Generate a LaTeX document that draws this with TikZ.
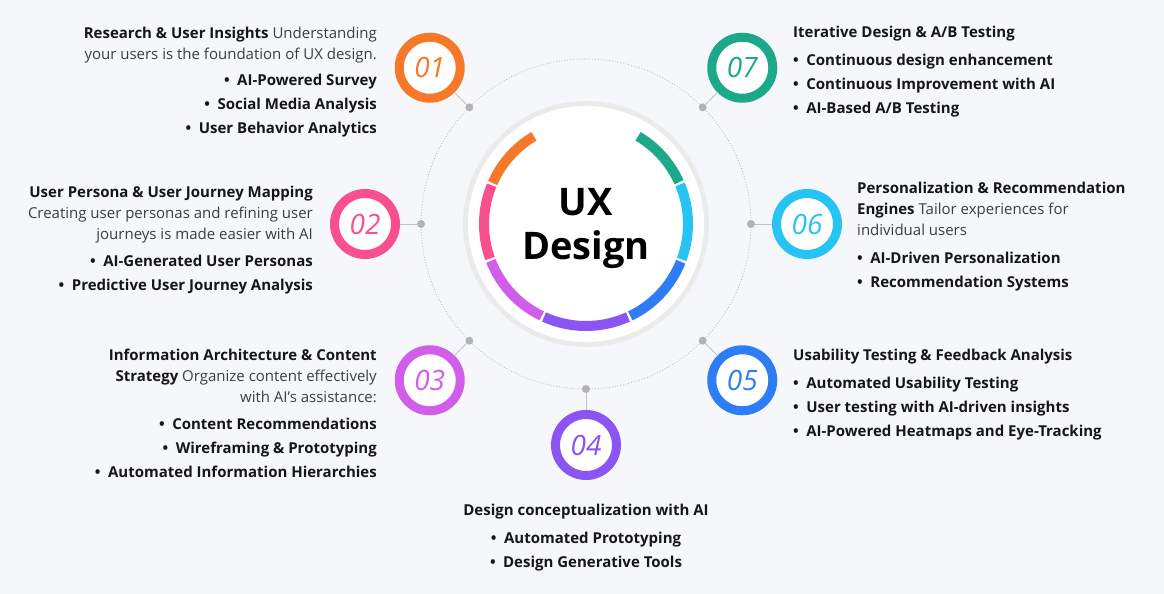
\documentclass[tikz,border=0pt]{standalone}
\usepackage{fontspec}
\setmainfont{Open Sans}
\usepackage{xcolor}
\usepackage{tikz}
\usetikzlibrary{positioning,calc}
\definecolor{uxorange}{RGB}{246,121,42}
\definecolor{uxpink}{RGB}{248,80,143}
\definecolor{uxmagenta}{RGB}{209,93,235}
\definecolor{uxviolet}{RGB}{138,85,242}
\definecolor{uxblue}{RGB}{47,125,246}
\definecolor{uxcyan}{RGB}{37,196,242}
\definecolor{uxgreen}{RGB}{27,169,138}
\definecolor{uxbg}{RGB}{246,247,251}
\definecolor{uxtext}{RGB}{22,22,26}
\definecolor{uxgray}{RGB}{60,60,66}
\definecolor{uxdot}{RGB}{178,178,184}

\begin{document}
\begin{tikzpicture}[x=1pt,y=-1pt,
  font=\fontsize{15}{21}\selectfont,
  stepnum/.style={circle,draw=#1,line width=9pt,fill=white,minimum size=61pt,inner sep=0pt,
    text=#1,font=\fontsize{28}{28}\selectfont\itshape},
  hub/.style={circle,fill=uxdot,minimum size=8pt,inner sep=0pt},
  link/.style={draw=uxdot!80,line width=1pt},
  desc/.style={inner sep=0pt,text=uxgray},
  items/.style={inner sep=0pt,text=uxtext,font=\fontsize{15}{24}\selectfont\bfseries},
  ringseg/.style={line width=10pt,draw=#1}]

\path[use as bounding box,fill=uxbg] (0,0) rectangle (1164,594);
\coordinate (c) at (586,224);

% orbit and main disk
\draw[uxdot,dotted,line width=.8pt] (c) circle[radius=165];
\fill[black!8] (c) circle[radius=123];
\fill[white] (c) circle[radius=118];
\foreach \a/\b/\col in {120/157/uxorange,157/200.5/uxpink,200.5/245/uxmagenta,245/295/uxviolet,
    295/339/uxblue,339/383.5/uxcyan,383.5/420/uxgreen}
  \draw[ringseg=\col] ($(c)+(-\a-0.7:102)$) arc[start angle=-\a-0.7,end angle=-\b+0.7,radius=102];
\node[font=\fontsize{38}{44}\selectfont\bfseries,align=center,text=black] (ux) at (586,228) {UX\\Design};

% hubs on the orbit and the numbered steps
\foreach \n/\ang/\col in {1/135/uxorange,2/180/uxpink,3/225/uxmagenta,4/270/uxviolet,
    5/315/uxblue,6/0/uxcyan,7/45/uxgreen}{
  \node[hub] (h\n) at ($(c)+(-\ang:165)$) {};
  \node[stepnum=\col] (s\n) at ($(c)+(-\ang:221)$) {0\n};
  \draw[link] (h\n)--(s\n);
}

% left side
\node[desc,anchor=north east,align=right] (d1) at (377,27)
  {\textbf{\color{uxtext}Research \& User Insights} Understanding\\your users is the foundation of UX design.};
\node[items,anchor=north east,align=right] (b1) at (377,74)
  {\textbullet\enspace AI-Powered Survey\\\textbullet\enspace Social Media Analysis\\\textbullet\enspace User Behavior Analytics};
\node[desc,anchor=north east,align=right] (d2) at (313,186)
  {\textbf{\color{uxtext}User Persona \& User Journey Mapping}\\Creating user personas and refining user\\journeys is made easier with AI};
\node[items,anchor=north east,align=right] (b2) at (313,255)
  {\textbullet\enspace AI-Generated User Personas\\\textbullet\enspace Predictive User Journey Analysis};
\node[desc,anchor=north east,align=right] (d3) at (377,349)
  {\textbf{\color{uxtext}Information Architecture \& Content}\\\textbf{\color{uxtext}Strategy} Organize content effectively\\with AI's assistance:};
\node[items,anchor=north east,align=right] (b3) at (377,418)
  {\textbullet\enspace Content Recommendations\\\textbullet\enspace Wireframing \& Prototyping\\\textbullet\enspace Automated Information Hierarchies};

% bottom
\node[desc,anchor=north,align=center,text=uxtext,font=\fontsize{15}{21}\selectfont\bfseries] (d4) at (586,504)
  {Design conceptualization with AI};
\node[items,anchor=north,align=center] (b4) at (586,532)
  {\textbullet\enspace Automated Prototyping\\\textbullet\enspace Design Generative Tools};

% right side
\node[desc,anchor=north west,align=left,text=uxtext,font=\fontsize{15}{21}\selectfont\bfseries] (d5) at (793,349)
  {Usability Testing \& Feedback Analysis};
\node[items,anchor=north west,align=left] (b5) at (793,377)
  {\textbullet\enspace Automated Usability Testing\\\textbullet\enspace User testing with AI-driven insights\\\textbullet\enspace AI-Powered Heatmaps and Eye-Tracking};
\node[desc,anchor=north west,align=left] (d6) at (857,182)
  {\textbf{\color{uxtext}Personalization \& Recommendation}\\\textbf{\color{uxtext}Engines} Tailor experiences for\\individual users};
\node[items,anchor=north west,align=left] (b6) at (857,252)
  {\textbullet\enspace AI-Driven Personalization\\\textbullet\enspace Recommendation Systems};
\node[desc,anchor=north west,align=left,text=uxtext,font=\fontsize{15}{21}\selectfont\bfseries] (d7) at (793,26)
  {Iterative Design \& A/B Testing};
\node[items,anchor=north west,align=left] (b7) at (793,54)
  {\textbullet\enspace Continuous design enhancement\\\textbullet\enspace Continuous Improvement with AI\\\textbullet\enspace AI-Based A/B Testing};

\end{tikzpicture}
\end{document}
